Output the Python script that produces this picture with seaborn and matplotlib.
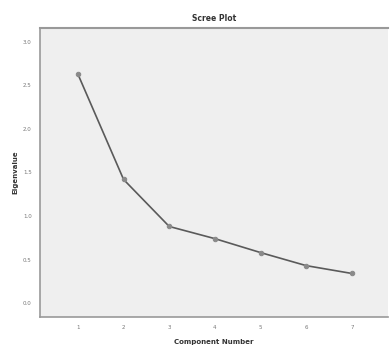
import matplotlib
matplotlib.use("Agg")
import matplotlib.pyplot as plt
import seaborn as sns
import pandas as pd

components = [1, 2, 3, 4, 5, 6, 7]
eigenvalues = [2.63, 1.42, 0.88, 0.74, 0.58, 0.43, 0.34]
y_ticks = [0.0, 0.5, 1.0, 1.5, 2.0, 2.5, 3.0]
y_tick_labels = ["0.0", "0.5", "1.0", "1.5", "2.0", "2.5", "3.0"]

df = pd.DataFrame({"Component Number": components, "Eigenvalue": eigenvalues})

sns.set_style("white")
plt.rcParams['font.family'] = ['DejaVu Sans']

fig = plt.figure(figsize=(3.9, 3.49), dpi=100)
ax = fig.add_axes([40/390, 1-317/349, 348/390, 289/349])
ax.set_facecolor("#efefef")

sns.lineplot(data=df, x="Component Number", y="Eigenvalue", ax=ax,
             color="#5a5a5a", linewidth=1.2, marker="o", markersize=3.2,
             markerfacecolor="#8a8a8a", markeredgecolor="#8a8a8a")

ax.set_xlim(0.17, 7.79)
ax.set_ylim(-0.16, 3.16)
ax.set_xticks(components)
ax.set_xticklabels([str(c) for c in components], fontsize=4, color="#777777")
ax.set_yticks(y_ticks)
ax.set_yticklabels(y_tick_labels, fontsize=4, color="#777777")
ax.tick_params(axis="both", direction="out", length=3, width=0.8, color="#888888", pad=3)

for side in ["top", "left", "bottom"]:
    ax.spines[side].set_visible(True)
    ax.spines[side].set_color("#999999")
ax.spines["top"].set_linewidth(1.5)
ax.spines["left"].set_linewidth(1.2)
ax.spines["bottom"].set_linewidth(1.2)
ax.spines["right"].set_visible(False)

ax.set_title("Scree Plot", fontsize=5.5, fontweight="bold", color="#333333", pad=5)
ax.set_xlabel("Component Number", fontsize=5, fontweight="bold", color="#333333", labelpad=6)
ax.set_ylabel("Eigenvalue", fontsize=5, fontweight="bold", color="#333333", labelpad=3)

fig.savefig("out.png", dpi=100, facecolor="white")
